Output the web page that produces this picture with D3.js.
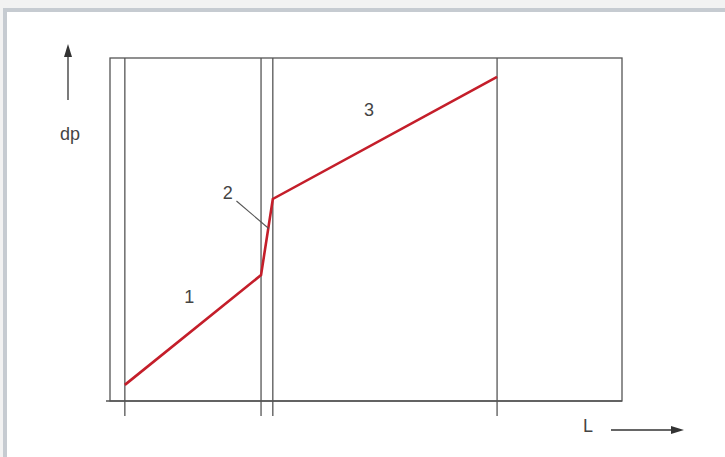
<!DOCTYPE html>
<html><head><meta charset="utf-8">
<script src="https://cdn.jsdelivr.net/npm/d3@7"></script>
<style>
html,body{margin:0;padding:0;background:#fff;}
svg{display:block;}
text{font-family:"Liberation Sans",Arial,sans-serif;fill:#444;}
</style></head>
<body>
<svg id="c" width="725" height="457"></svg>
<script>
// Data (schematic units)
const xDomain = [0, 100];
const yDomain = [0, 100];
const boundaries = [2.9, 29.5, 31.8, 75.6];           // vertical separator lines (L)
const curveL  = [2.9, 29.5, 31.8, 75.6];               // red line L values
const curveDp = [4.7, 36.7, 58.9, 94.5];               // red line dp values
const zoneLabels = ["1", "2", "3"];
const zoneLabelL  = [15.5, 23.0, 50.6];
const zoneLabelDp = [30.3, 60.5, 84.7];
const axisLabels = {x: "L", y: "dp"};

const svg = d3.select("#c");
// page chrome
svg.append("rect").attr("x",0).attr("y",0).attr("width",725).attr("height",457).attr("fill","#f2f2f2");
svg.append("rect").attr("x",3).attr("y",8).attr("width",722).attr("height",449).attr("fill","#c6cbd1");
svg.append("rect").attr("x",7).attr("y",12).attr("width",718).attr("height",445).attr("fill","#fff");

const x = d3.scaleLinear().domain(xDomain).range([110, 622]);
const y = d3.scaleLinear().domain(yDomain).range([401, 58]);
const stroke = "#555";

// frame
svg.append("rect").attr("x", x(0)).attr("y", y(100))
  .attr("width", x(100)-x(0)).attr("height", y(0)-y(100))
  .attr("fill","none").attr("stroke",stroke).attr("stroke-width",1.3);
// bottom axis line extending slightly left
svg.append("line").attr("x1", x(0)-4).attr("x2", x(100)).attr("y1", y(0)).attr("y2", y(0))
  .attr("stroke",stroke).attr("stroke-width",1.5);

// boundaries
svg.selectAll("line.b").data(boundaries).join("line").attr("class","b")
  .attr("x1", d=>x(d)).attr("x2", d=>x(d)).attr("y1", y(100)).attr("y2", y(0)+15)
  .attr("stroke",stroke).attr("stroke-width",1.3);

// red curve
const pts = curveL.map((l,i)=>[l, curveDp[i]]);
svg.append("path").datum(pts)
  .attr("d", d3.line().x(d=>x(d[0])).y(d=>y(d[1])))
  .attr("fill","none").attr("stroke","#c41e2a").attr("stroke-width",2.6).attr("stroke-linejoin","miter");

// zone labels
svg.selectAll("text.z").data(zoneLabels).join("text").attr("class","z")
  .attr("x",(d,i)=>x(zoneLabelL[i])).attr("y",(d,i)=>y(zoneLabelDp[i]))
  .attr("text-anchor","middle").attr("dominant-baseline","central")
  .attr("font-size",18).text(d=>d);

// leader line for label 2
svg.append("line").attr("x1", x(24.7)).attr("y1", y(58.3)).attr("x2", x(31.0)).attr("y2", y(50.3))
  .attr("stroke",stroke).attr("stroke-width",1.1);

// y axis arrow + label
svg.append("line").attr("x1",68).attr("x2",68).attr("y1",100).attr("y2",54)
  .attr("stroke","#333").attr("stroke-width",1.3);
svg.append("path").attr("d","M68,44 L72,57 L64,57 Z").attr("fill","#333");
svg.append("text").attr("x",70).attr("y",140).attr("text-anchor","middle").attr("font-size",18).text(axisLabels.y);

// x axis arrow + label
svg.append("line").attr("x1",611).attr("x2",674).attr("y1",430).attr("y2",430)
  .attr("stroke","#333").attr("stroke-width",1.3);
svg.append("path").attr("d","M684,430 L671,426 L671,434 Z").attr("fill","#333");
svg.append("text").attr("x",588).attr("y",432).attr("text-anchor","middle").attr("font-size",18).text(axisLabels.x);
</script>
</body></html>
